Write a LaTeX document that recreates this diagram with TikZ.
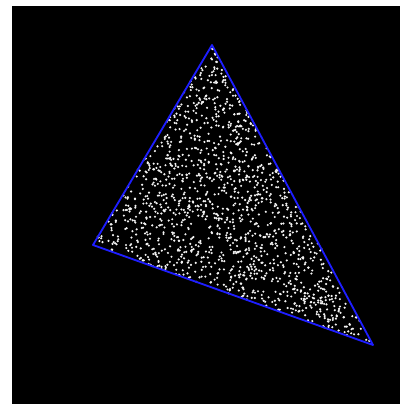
\documentclass[tikz,border=0pt]{standalone}
\begin{document}
\begin{tikzpicture}[x=0.025cm,y=-0.025cm,speck/.style={fill=white!90!gray},edge/.style={draw={rgb,255:red,30;green,30;blue,255},line width=1.3pt,line join=round}]
\useasboundingbox (0,0) rectangle (400,404);
\fill[black] (12,6) rectangle (400,404);
\coordinate (apex) at (212,45);
\coordinate (west) at (93,245);
\coordinate (east) at (373,345);
% random specks inside the triangle
\pgfmathsetseed{4711}
\foreach \i in {1,...,1400}{
  \pgfmathsetmacro\ra{rnd}
  \pgfmathsetmacro\rb{rnd}
  \pgfmathsetmacro\su{\ra+\rb>1 ? 1-\ra : \ra}
  \pgfmathsetmacro\sv{\ra+\rb>1 ? 1-\rb : \rb}
  \pgfmathsetmacro\px{212+\su*(93-212)+\sv*(373-212)}
  \pgfmathsetmacro\py{45+\su*(245-45)+\sv*(345-45)}
  \fill[speck] (\px,\py) circle[radius=0.85pt];
}
\draw[edge] (apex) -- (west) -- (east) -- cycle;
\end{tikzpicture}
\end{document}
